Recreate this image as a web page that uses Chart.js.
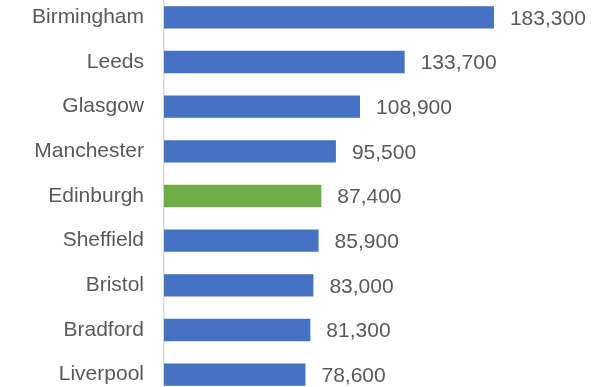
<!DOCTYPE html>
<html>
<head>
<meta charset="utf-8">
<script src="https://cdn.jsdelivr.net/npm/chart.js@4/dist/chart.umd.min.js"></script>
<style>
  html, body { margin: 0; padding: 0; background: #ffffff; overflow: hidden; }
  body { width: 613px; height: 387px; position: relative; }
  #chart { position: absolute; left: 0; top: -5px; display: block; }
</style>
</head>
<body>
<canvas id="chart" width="613" height="402"></canvas>
<script>
// Cities and their values
const cities = ["Birmingham", "Leeds", "Glasgow", "Manchester", "Edinburgh", "Sheffield", "Bristol", "Bradford", "Liverpool"];
const values = [183300, 133700, 108900, 95500, 87400, 85900, 83000, 81300, 78600];
const highlighted = "Edinburgh";

const BLUE = "#4472C4";
const GREEN = "#70AD47";
const TEXT = "#595959";
const FONT = "'Liberation Sans', Arial, sans-serif";
const SIZE = 21;

// Writes the value at the end of each bar
const valueLabels = {
  id: "valueLabels",
  afterDatasetsDraw(chart) {
    const ctx = chart.ctx;
    const meta = chart.getDatasetMeta(0);
    ctx.save();
    ctx.font = SIZE + "px " + FONT;
    ctx.fillStyle = TEXT;
    ctx.textAlign = "left";
    ctx.textBaseline = "middle";
    meta.data.forEach((bar, i) => {
      ctx.fillText(values[i].toLocaleString("en-US"), bar.x + 16, bar.y + 1.5);
    });
    ctx.restore();
  }
};

new Chart(document.getElementById("chart"), {
  type: "bar",
  data: {
    labels: cities,
    datasets: [{
      data: values,
      backgroundColor: cities.map(c => c === highlighted ? GREEN : BLUE),
      borderWidth: 0,
      categoryPercentage: 1,
      barPercentage: 0.5
    }]
  },
  options: {
    indexAxis: "y",
    responsive: false,
    animation: false,
    layout: { padding: { left: 0, right: 89, top: 0, bottom: 0 } },
    plugins: { legend: { display: false }, tooltip: { enabled: false } },
    scales: {
      x: {
        display: false,
        min: 0,
        max: 200000
      },
      y: {
        grid: { display: false, drawTicks: false },
        border: { display: true, color: "#D9D9D9", width: 1.5 },
        ticks: {
          padding: 20,
          color: TEXT,
          font: { family: FONT, size: SIZE }
        },
        afterFit(scale) {
          scale.width = 164;
          scale.paddingTop = 0;
          scale.paddingBottom = 0;
        }
      }
    }
  },
  plugins: [valueLabels]
});
</script>
</body>
</html>
